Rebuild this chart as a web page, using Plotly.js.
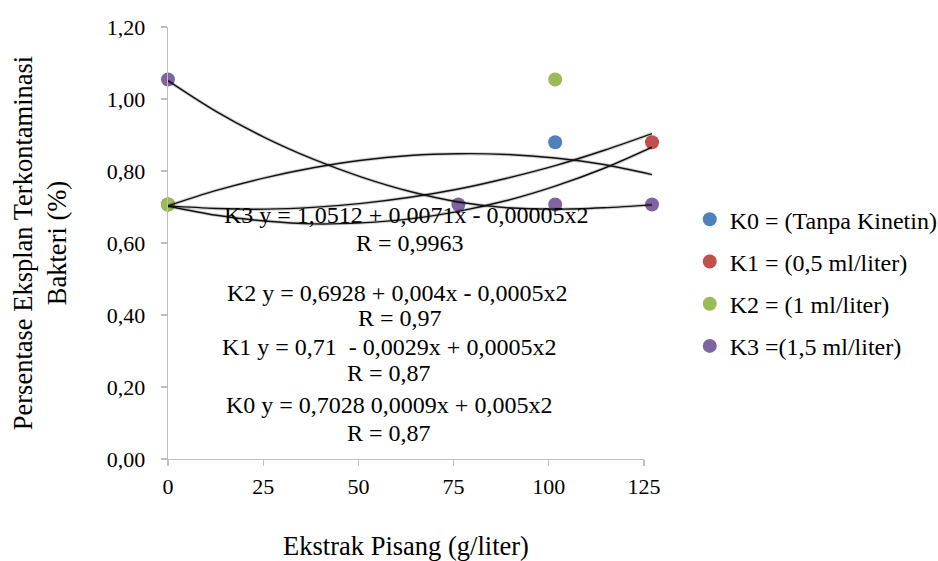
<!DOCTYPE html>
<html>
<head>
<meta charset="utf-8">
<script src="https://cdn.plot.ly/plotly-3.0.1.min.js"></script>
<style>
  html, body { margin: 0; padding: 0; background: #ffffff; }
  #chart { width: 938px; height: 561px; }
</style>
</head>
<body>
<div id="chart"></div>
<script>
// ---- Data ----
const seriesNames = ["K0 = (Tanpa Kinetin)", "K1 = (0,5 ml/liter)", "K2 = (1 ml/liter)", "K3 =(1,5 ml/liter)"];
const seriesColors = ["#4F81BD", "#C0504D", "#9BBB59", "#8064A2"];

const k0X = [0, 100];
const k0Y = [0.707, 0.880];
const k1X = [0, 125];
const k1Y = [0.707, 0.880];
const k2X = [0, 100];
const k2Y = [0.707, 1.054];
const k3X = [0, 75, 100, 125];
const k3Y = [1.054, 0.707, 0.707, 0.707];

// trendlines (polynomial)
const trendX = [0, 12.5, 25, 37.5, 50, 62.5, 75, 87.5, 100, 112.5, 125];
const trendK0 = [0.703, 0.696, 0.694, 0.699, 0.710, 0.727, 0.750, 0.780, 0.815, 0.857, 0.904];
const trendK1 = [0.703, 0.677, 0.661, 0.653, 0.656, 0.667, 0.688, 0.718, 0.758, 0.807, 0.866];
const trendK2 = [0.703, 0.746, 0.781, 0.809, 0.830, 0.843, 0.848, 0.846, 0.836, 0.818, 0.790];
const trendK3 = [1.051, 0.965, 0.893, 0.833, 0.783, 0.743, 0.714, 0.698, 0.694, 0.698, 0.706];

const xTickVals = [0, 25, 50, 75, 100, 125];
const xTickText = ["0", "25", "50", "75", "100", "125"];
const yTickVals = [0, 0.2, 0.4, 0.6, 0.8, 1.0, 1.2];

const equations = [
  "K3 y = 1,0512 + 0,0071x - 0,00005x2",
  "R = 0,9963",
  "K2 y = 0,6928 + 0,004x - 0,0005x2",
  "R = 0,97",
  "K1 y = 0,71\u00a0\u00a0- 0,0029x + 0,0005x2",
  "R = 0,87",
  "K0 y = 0,7028 0,0009x + 0,005x2",
  "R = 0,87"
];

const xTitle = "Ekstrak Pisang (g/liter)";
const yTitle = "Persentase Eksplan Terkontaminasi<br>Bakteri (%)";

// ---- Build traces ----
const FONT = "Liberation Serif, serif";
const pts = [[k0X, k0Y], [k1X, k1Y], [k2X, k2Y], [k3X, k3Y]];
const trends = [trendK0, trendK1, trendK2, trendK3];

const traces = [];
// empty trace so the visible tick axis (x2) gets drawn (placed first, below everything)
traces.push({ type: "scatter", mode: "markers", x: [], y: [], xaxis: "x2", yaxis: "y", showlegend: false, hoverinfo: "skip" });
pts.forEach((p, i) => {
  traces.push({
    type: "scatter", mode: "markers", x: p[0], y: p[1],
    name: seriesNames[i], legendgroup: "g" + i,
    marker: { color: seriesColors[i], size: 14 },
    cliponaxis: false, hoverinfo: "x+y"
  });
});
trends.forEach((t) => {
  traces.push({
    type: "scatter", mode: "lines", x: trendX, y: t, showlegend: false,
    line: { color: "rgba(0,0,0,0.18)", width: 3.5, shape: "spline" }, hoverinfo: "skip"
  });
  traces.push({
    type: "scatter", mode: "lines", x: trendX, y: t, showlegend: false,
    line: { color: "#111111", width: 1.4, shape: "spline" }, hoverinfo: "skip"
  });
});

// annotation positions (paper coords) for the equation block
const eqPos = [
  [0.4917, 0.5648], [0.5000, 0.5000],
  [0.4731, 0.3843], [0.4793, 0.3264],
  [0.4566, 0.2593], [0.4566, 0.1991],
  [0.4566, 0.1250], [0.4566, 0.0602]
];
const annotations = equations.map((t, i) => ({
  text: t, xref: "paper", yref: "paper", x: eqPos[i][0], y: eqPos[i][1],
  xanchor: "center", yanchor: "middle", showarrow: false,
  font: { family: FONT, size: 24, color: "#000000" }
}));

const layout = {
  width: 938, height: 561,
  margin: { l: 168, r: 286, t: 27, b: 102, autoexpand: false },
  paper_bgcolor: "#ffffff", plot_bgcolor: "rgba(0,0,0,0)",
  separators: ",.",
  showlegend: true,
  font: { family: FONT, size: 22, color: "#000000" },
  xaxis: {
    domain: [0, 1], range: [0, 125], visible: false, fixedrange: true
  },
  xaxis2: {
    domain: [0, 0.9835], range: [0, 125], anchor: "y",
    tickmode: "array", tickvals: xTickVals, ticktext: xTickText,
    ticks: "outside", ticklen: 6, tickcolor: "#BFBFBF", tickwidth: 1.3,
    showline: true, linecolor: "#BFBFBF", linewidth: 1.3,
    showgrid: false, zeroline: false, ticklabelstandoff: 1,
    tickfont: { family: FONT, size: 22, color: "#000000" },
    title: { text: xTitle, font: { family: FONT, size: 26.5, color: "#000000" }, standoff: 42 }
  },
  yaxis: {
    range: [0, 1.2], tickmode: "array", tickvals: yTickVals, tickformat: ".2f",
    ticks: "outside", ticklen: 6, tickcolor: "#BFBFBF", tickwidth: 1.3,
    showline: true, linecolor: "#BFBFBF", linewidth: 1.3,
    showgrid: false, zeroline: false, ticklabelstandoff: 11,
    tickfont: { family: FONT, size: 22, color: "#000000" },
    title: { text: yTitle, font: { family: FONT, size: 26.5, color: "#000000" }, standoff: 32 }
  },
  legend: {
    x: 1.078, xanchor: "left", y: 0.606, yanchor: "top",
    traceorder: "grouped", tracegroupgap: 8,
    font: { family: FONT, size: 24, color: "#000000" },
    bgcolor: "rgba(0,0,0,0)"
  },
  annotations: annotations
};

Plotly.newPlot("chart", traces, layout, { displayModeBar: false, staticPlot: true });
</script>
</body>
</html>
